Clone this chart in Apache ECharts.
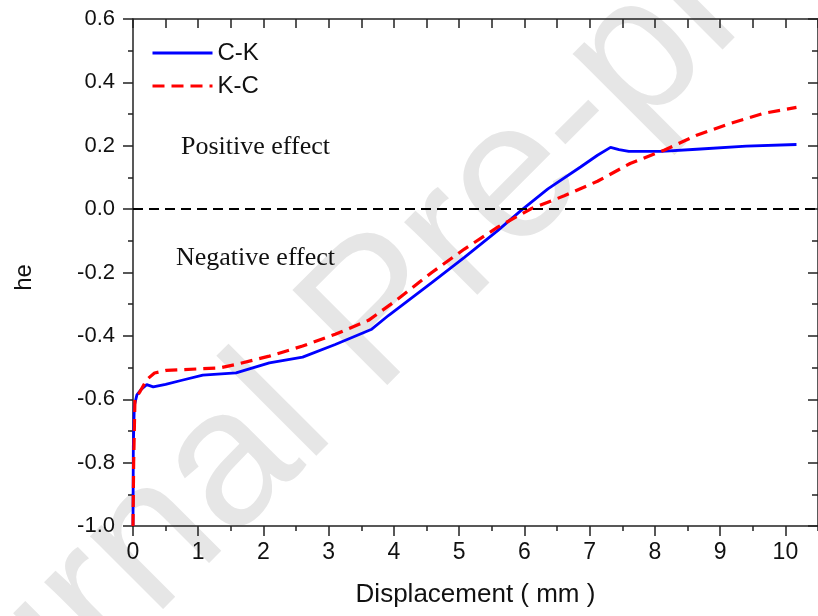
<!DOCTYPE html>
<html>
<head>
<meta charset="utf-8">
<title>he - Displacement</title>
<script src="https://cdn.jsdelivr.net/npm/echarts@6/dist/echarts.min.js"></script>
<style>
  html, body { margin: 0; padding: 0; background: #fff; }
  #chart { width: 818px; height: 616px; }
</style>
</head>
<body>
<div id="chart"></div>
<script>
  // C-K curve
  const ckX = [0, 0.005, 0.02, 0.06, 0.12, 0.21, 0.31, 0.5, 0.75, 1.07, 1.58, 2.09, 2.6, 3.1, 3.65, 3.92, 4.58, 5.08, 5.59, 5.95, 6.36, 6.86, 7.12, 7.32, 7.45, 7.6, 8.1, 8.64, 9.4, 10.17]
  const ckY = [-1.0, -0.75, -0.62, -0.586, -0.57, -0.554, -0.561, -0.553, -0.54, -0.524, -0.517, -0.485, -0.467, -0.427, -0.38, -0.335, -0.232, -0.152, -0.068, -0.004, 0.064, 0.133, 0.17, 0.195, 0.188, 0.182, 0.182, 0.189, 0.199, 0.204]
  // K-C curve
  const kcX = [0, 0.01, 0.03, 0.11, 0.21, 0.33, 0.51, 0.72, 1.33, 1.58, 2.09, 2.6, 3.1, 3.61, 4.02, 4.58, 5.08, 5.59, 6.1, 6.61, 7.12, 7.62, 8.14, 8.64, 9.15, 9.66, 10.17]
  const kcY = [-1.0, -0.8, -0.6, -0.575, -0.538, -0.517, -0.509, -0.507, -0.501, -0.49, -0.464, -0.432, -0.395, -0.351, -0.29, -0.2, -0.126, -0.057, 0.001, 0.042, 0.088, 0.144, 0.186, 0.233, 0.27, 0.302, 0.321]

  const xTicks = [0, 1, 2, 3, 4, 5, 6, 7, 8, 9, 10]
  const yTicks = ['-1.0', '-0.8', '-0.6', '-0.4', '-0.2', '0.0', '0.2', '0.4', '0.6']

  const sans = '"Liberation Sans", Arial, sans-serif'
  const serif = '"Liberation Serif", "Times New Roman", serif'
  const axisColor = '#222'

  const pairs = (xs, ys) => xs.map((x, i) => [x, ys[i]])

  const chart = echarts.init(document.getElementById('chart'), null, { renderer: 'canvas' })

  const option = {
    backgroundColor: '#fff',
    animation: false,
    grid: { left: 133, top: 19, right: -4, bottom: 90, containLabel: false },
    legend: {
      orient: 'vertical',
      left: 146,
      top: 36,
      itemWidth: 60,
      itemHeight: 12,
      itemGap: 9,
      itemStyle: { opacity: 0 },
      lineStyle: { width: 3 },
      textStyle: { fontFamily: sans, fontSize: 24, color: '#111', lineHeight: 24 },
      data: ['C-K', 'K-C']
    },
    xAxis: [
      {
        // main bottom axis with labels
        type: 'value',
        position: 'bottom',
        min: 0,
        max: 10.5,
        interval: 1,
        name: 'Displacement ( mm )',
        nameLocation: 'middle',
        nameGap: 56,
        nameTextStyle: { fontFamily: sans, fontSize: 26, color: '#111' },
        axisLine: { show: true, onZero: false, lineStyle: { color: axisColor, width: 1.5 } },
        axisTick: { show: true, inside: false, length: 10, lineStyle: { color: axisColor, width: 1.5 } },
        axisLabel: {
          fontFamily: sans, fontSize: 23, color: '#111', margin: 15, showMaxLabel: false,
          formatter: v => (xTicks.indexOf(v) >= 0 ? String(v) : '')
        },
        splitLine: { show: false }
      },
      {
        // half-unit small ticks at the bottom
        type: 'value',
        position: 'bottom',
        min: 0,
        max: 10.5,
        interval: 0.5,
        axisLine: { show: false, onZero: false },
        axisTick: { show: true, inside: false, length: 5, lineStyle: { color: axisColor, width: 1.5 } },
        axisLabel: { show: false },
        splitLine: { show: false }
      },
      {
        // top frame
        type: 'value',
        position: 'top',
        min: 0,
        max: 10.5,
        interval: 0.5,
        axisLine: { show: true, onZero: false, lineStyle: { color: axisColor, width: 1.5 } },
        axisTick: { show: true, inside: true, length: 9, lineStyle: { color: axisColor, width: 1.5 } },
        axisLabel: { show: false },
        splitLine: { show: false }
      }
    ],
    yAxis: [
      {
        type: 'value',
        position: 'left',
        min: -1.0,
        max: 0.6,
        interval: 0.2,
        name: 'he',
        nameLocation: 'middle',
        nameGap: 97,
        nameTextStyle: { fontFamily: sans, fontSize: 24, color: '#111', padding: [0, 10, 0, 0] },
        axisLine: { show: true, onZero: false, lineStyle: { color: axisColor, width: 1.5 } },
        axisTick: { show: true, inside: false, length: 10, lineStyle: { color: axisColor, width: 1.5 } },
        minorTick: { show: true, splitNumber: 2, length: 5, lineStyle: { color: axisColor, width: 1.5 } },
        axisLabel: {
          fontFamily: sans, fontSize: 22, color: '#111', margin: 18,
          formatter: v => yTicks[Math.round((v + 1) / 0.2)]
        },
        splitLine: { show: false }
      },
      {
        // right frame
        type: 'value',
        position: 'right',
        min: -1.0,
        max: 0.6,
        interval: 0.2,
        axisLine: { show: true, onZero: false, lineStyle: { color: axisColor, width: 1.5 } },
        axisTick: { show: true, inside: true, length: 10, lineStyle: { color: axisColor, width: 1.5 } },
        minorTick: { show: true, splitNumber: 2, length: 6, lineStyle: { color: axisColor, width: 1.5 } },
        axisLabel: { show: false },
        splitLine: { show: false }
      }
    ],
    graphic: [
      {
        type: 'text',
        z: -10,
        x: 380,
        y: 316,
        rotation: Math.PI / 4,
        silent: true,
        style: {
          text: 'Journal Pre-proof',
          fontFamily: sans,
          fontSize: 195,
          fill: '#e6e6e6',
          align: 'center',
          verticalAlign: 'middle'
        }
      },
      {
        type: 'text',
        x: 181,
        y: 147,
        z: 10,
        style: { text: 'Positive effect', fontFamily: serif, fontSize: 26, fill: '#111', align: 'left', verticalAlign: 'middle' }
      },
      {
        type: 'text',
        x: 176,
        y: 258,
        z: 10,
        style: { text: 'Negative effect', fontFamily: serif, fontSize: 26, fill: '#111', align: 'left', verticalAlign: 'middle' }
      }
    ],
    series: [
      {
        name: 'C-K',
        type: 'line',
        xAxisIndex: 0,
        yAxisIndex: 0,
        showSymbol: false,
        symbol: 'none',
        smooth: false,
        lineStyle: { color: '#0000ff', width: 2.8, type: 'solid' },
        itemStyle: { color: '#0000ff' },
        data: pairs(ckX, ckY),
        markLine: {
          silent: true,
          symbol: 'none',
          label: { show: false },
          lineStyle: { color: '#000', width: 2.2, type: [10, 6] },
          data: [{ yAxis: 0 }]
        }
      },
      {
        name: 'K-C',
        type: 'line',
        xAxisIndex: 0,
        yAxisIndex: 0,
        showSymbol: false,
        symbol: 'none',
        smooth: false,
        lineStyle: { color: '#ff0000', width: 3.2, type: [12, 7] },
        itemStyle: { color: '#ff0000' },
        data: pairs(kcX, kcY)
      }
    ]
  }

  chart.setOption(option)
</script>
</body>
</html>
